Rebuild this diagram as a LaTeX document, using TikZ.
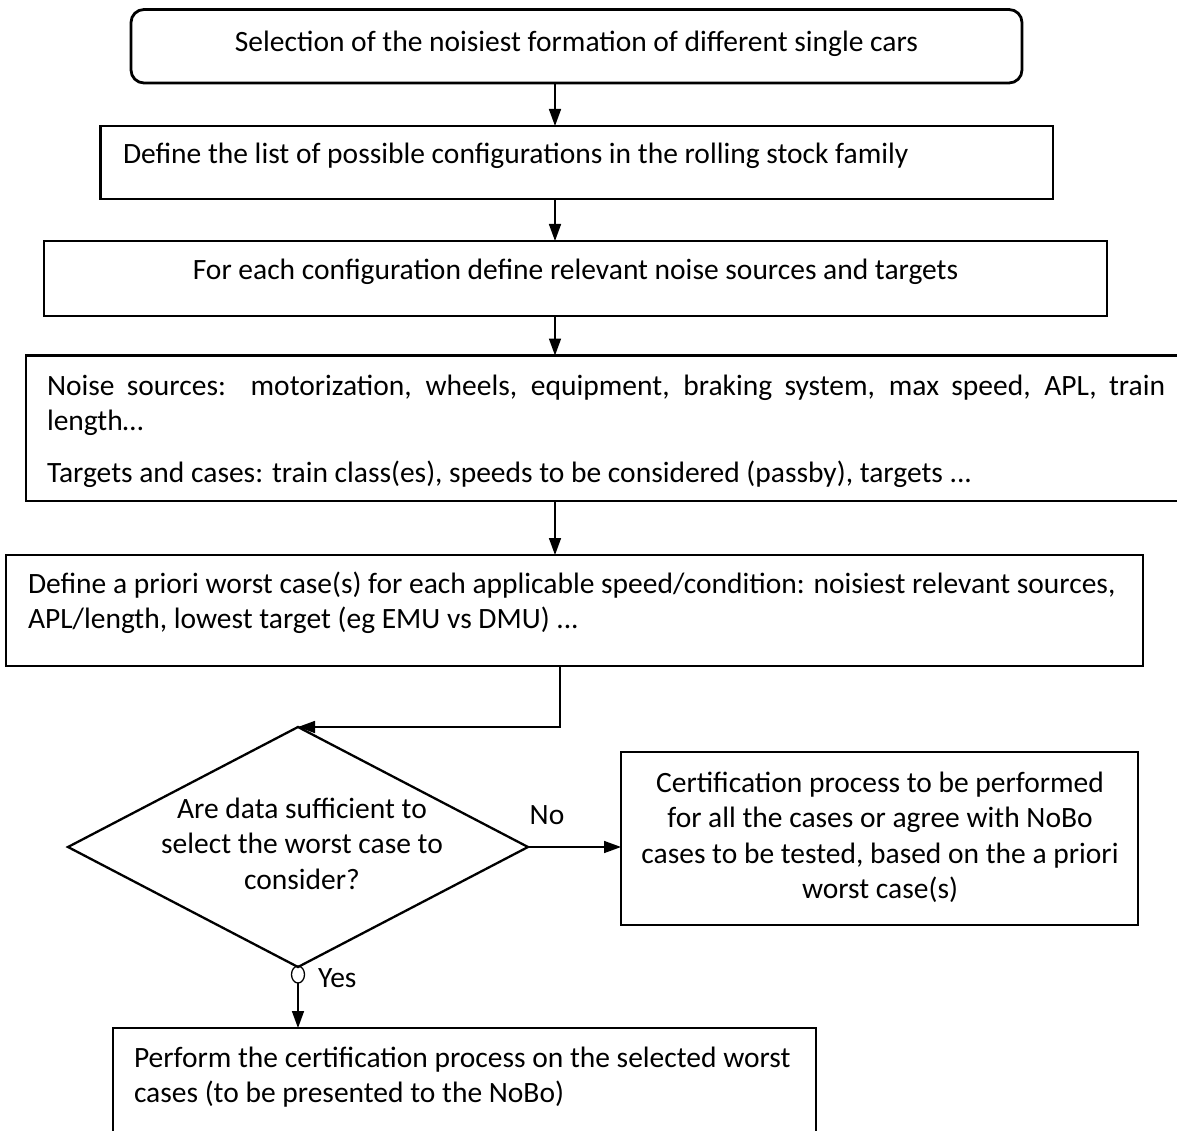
\documentclass[tikz,border=0pt]{standalone}
\usepackage{fontspec}
\setmainfont{Carlito}
\usetikzlibrary{shapes.geometric,arrows.meta}
\begin{document}
\begin{tikzpicture}[x=1pt,y=-1pt,
  every node/.style={inner sep=0pt,outer sep=0pt},
  box/.style={draw,line width=2.8pt,rectangle},
  rbox/.style={box,rounded corners=13pt},
  txt/.style={font=\fontsize{29.5}{35.5}\selectfont,anchor=base},
  ltxt/.style={txt,anchor=base west},
  arr/.style={line width=1.6pt,-{Triangle[length=17pt,width=12pt]}},
  link/.style={line width=1.6pt}]
\useasboundingbox (0,0) rectangle (1177,1131);

% arrow columns
\coordinate (col) at (555,0);
\coordinate (elbow) at (560,0);

% process boxes
\node[rbox,minimum width=891pt,minimum height=73.5pt] (b1) at (576.5,46.25) {};
\node[box,minimum width=952.5pt,minimum height=73pt] (b2) at (576.75,162.5) {};
\node[box,minimum width=1063pt,minimum height=75pt] (b3) at (575.5,278.5) {};
\node[box,minimum width=1159pt,minimum height=145.5pt] (b4) at (605.5,428.25) {};
\node[box,minimum width=1137pt,minimum height=111pt] (b5) at (574.5,610.5) {};
\node[draw,diamond,line width=2.3pt,minimum width=460pt,minimum height=240pt] (dia) at (298,847) {};
\node[box,minimum width=517pt,minimum height=173pt] (cert) at (879.5,838.5) {};
\node[box,minimum width=703pt,minimum height=117pt] (b6) at (464.5,1086.5) {};

% texts
\node[txt] (t1) at (576.5,52) {Selection of the noisiest formation of different single cars};
\node[ltxt] (t2) at (123,164) {Define the list of possible configurations in the rolling stock family};
\node[txt] (t3) at (575.5,280) {For each configuration define relevant noise sources and targets};
\node[ltxt] (t4) at (47,395) {\parbox[t]{1118pt}{Noise sources:\ \ motorization, wheels, equipment, braking system, max speed, APL, train\linebreak length…\par\vspace{16pt}Targets and cases: train class(es), speeds to be considered (passby), targets ...}};
\node[ltxt] (t5) at (28,593) {\begin{tabular}[t]{@{}l@{}}Define a priori worst case(s) for each applicable speed/condition: noisiest relevant sources,\\APL/length, lowest target (eg EMU vs DMU) ...\end{tabular}};
\node[txt] (td) at (302,818) {\begin{tabular}[t]{@{}c@{}}Are data sufficient to\\select the worst case to\\consider?\end{tabular}};
\node[txt] (tc) at (880,792) {\begin{tabular}[t]{@{}c@{}}Certification process to be performed\\for all the cases or agree with NoBo\\cases to be tested, based on the a priori\\worst case(s)\end{tabular}};
\node[ltxt] (t6) at (134,1067) {\begin{tabular}[t]{@{}l@{}}Perform the certification process on the selected worst\\cases (to be presented to the NoBo)\end{tabular}};

% branch labels and connector point
\node[txt,anchor=center] (no) at (547,815) {No};
\node[draw,ellipse,line width=1.3pt,minimum width=13pt,minimum height=17pt] (yc) at (298,974.5) {};
\node[txt,anchor=base west] (yes) at (318,987) {Yes};

% connectors
\draw[arr] (b1.south -| col) -- (b2.north -| col);
\draw[arr] (b2.south -| col) -- (b3.north -| col);
\draw[arr] (b3.south -| col) -- (b4.north -| col);
\draw[arr] (b4.south -| col) -- (b5.north -| col);
\draw[arr] (b5.south -| elbow) |- (dia.north);
\draw[arr] (dia.east) -- (cert.west |- dia.east);
\draw[link] (dia.south) -- (yc.north);
\draw[arr] (yc.south) -- (b6.north -| yc);
\end{tikzpicture}
\end{document}
